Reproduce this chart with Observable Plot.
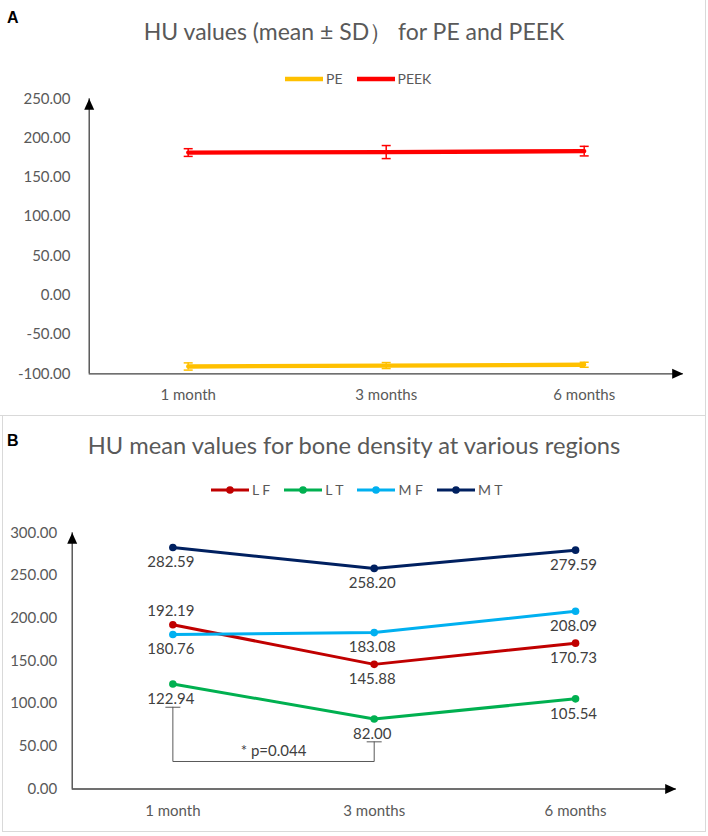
<!DOCTYPE html>
<html>
<head>
<meta charset="utf-8">
<script src="https://cdn.jsdelivr.net/npm/d3@7"></script>
<script src="https://cdn.jsdelivr.net/npm/@observablehq/plot@0.6"></script>
<style>
  body { margin: 0; background: #fff; font-family: Lato, sans-serif; }
  #page { position: relative; width: 708px; height: 836px; }
  .panel { position: absolute; box-sizing: border-box; border: 0 solid #d9d9d9; }
  #panelA { left: 0; top: 0; width: 706px; height: 416px; border-width: 0 1px 1px 0; }
  #panelB { left: 2px; top: 416px; width: 704px; height: 416px; border-width: 0 1px 1px 1px; }
  .tag { position: absolute; left: 7px; font: bold 16px "Liberation Sans", Arial, sans-serif; line-height: 16px; color: #000; }
  .title { position: absolute; left: 0; width: 708px; text-align: center; color: #595959; line-height: 1; white-space: nowrap; }
  .legend { position: absolute; display: flex; align-items: center; height: 20px; font-size: 14px; color: #595959; line-height: 20px; }
  .legend .item { display: flex; align-items: center; margin-right: 14px; }
  .legend svg { margin-right: 3px; }
  .chart { position: absolute; left: 0; }
</style>
</head>
<body>
<div id="page">
  <div class="panel" id="panelA"></div>
  <div class="panel" id="panelB"></div>
  <div class="tag" style="top:10px">A</div>
  <div class="title" style="top:20px;font-size:23px">HU values (mean ± SD） for PE and PEEK</div>
  <div class="legend" id="legendA" style="left:285px;top:69px"></div>
  <div class="chart" id="chartA" style="top:90px"></div>
  <div class="tag" style="top:433px">B</div>
  <div class="title" style="top:433.5px;font-size:23.7px">HU mean values for bone density at various regions</div>
  <div class="legend" id="legendB" style="left:211px;top:480px"></div>
  <div class="chart" id="chartB" style="top:500px"></div>
</div>
<script>
// time points
const months = ["1 month", "3 months", "6 months"]

// panel A: mean and SD
const seriesA = ["PE", "PEEK"]
const colorsA = ["#FFC000", "#FF0000"]
const peMean = [-90.7, -89.5, -88.5]
const peSd = [4.6, 3.8, 3.2]
const peekMean = [181.6, 182.2, 183.4]
const peekSd = [4.9, 8.3, 6.1]
const ticksA = [-100, -50, 0, 50, 100, 150, 200, 250]

// panel B: mean values per region
const seriesB = ["LF", "LT", "MF", "MT"]
const legendLabelsB = ["L F", "L T", "M F", "M T"]
const colorsB = ["#C00000", "#00B050", "#00B0F0", "#002060"]
const lf = [192.19, 145.88, 170.73]
const lt = [122.94, 82.00, 105.54]
const mf = [180.76, 183.08, 208.09]
const mt = [282.59, 258.20, 279.59]
const ticksB = [0, 50, 100, 150, 200, 250, 300]

// significance bracket between 1 month and 3 months (LT)
const bracketX = [0, 0, 1, 1]
const bracketY = [95.7, 32.2, 32.2, 55.2]
const pText = "* p=0.044"
const pAt = {i: 0.5, v: 43.9}

// plain hyphen for negatives, like the original
const fmt = d3.formatLocale({decimal: ".", thousands: ",", grouping: [3], currency: ["", ""], minus: "-"}).format(".2f")

// custom symbols
const arrowRight = {draw(c) { c.moveTo(0, 0); c.lineTo(-11, -5); c.lineTo(-11, 5); c.closePath() }}
const arrowUp = {draw(c) { c.moveTo(0, 0); c.lineTo(-5, 11); c.lineTo(5, 11); c.closePath() }}
const cap = w => ({draw(c) { c.moveTo(-w / 2, 0); c.lineTo(w / 2, 0) }})

const rowsA = []
months.forEach((m, i) => {
  rowsA.push({series: "PE", i, mean: peMean[i], sd: peSd[i]})
})
months.forEach((m, i) => {
  rowsA.push({series: "PEEK", i, mean: peekMean[i], sd: peekSd[i]})
})

const rowsB = []
const valsB = [lf, lt, mf, mt]
seriesB.forEach((s, k) => months.forEach((m, i) => rowsB.push({series: s, i, value: valsB[k][i]})))

const bracket = bracketX.map((x, j) => ({i: x, v: bracketY[j]}))

const axisStroke = "#404040"

let chartA = Plot.plot({
  width: 708,
  height: 320,
  marginLeft: 88.7,
  marginRight: 25.3,
  marginTop: 8.3,
  marginBottom: 36.7,
  x: {domain: [-0.5, 2.5], axis: null},
  y: {domain: [-100, 250], axis: null},
  color: {domain: seriesA, range: colorsA},
  style: {fontFamily: "Lato, sans-serif", fontSize: "15px", color: "#595959", background: "transparent", overflow: "visible"},
  marks: [
    Plot.axisY({ticks: ticksA, tickSize: 0, tickPadding: 18.7, tickFormat: fmt, label: null}),
    Plot.axisX({ticks: [0, 1, 2], tickSize: 0, tickPadding: 16, tickFormat: i => months[i], label: null}),
    Plot.ruleY([-100], {stroke: axisStroke, strokeWidth: 1.3}),
    Plot.ruleX([-0.5], {y1: -100, y2: 250, stroke: axisStroke, strokeWidth: 1.3}),
    Plot.dot([0], {x: () => 2.5, y: () => -100, symbol: arrowRight, fill: "#000", stroke: null}),
    Plot.dot([0], {x: () => -0.5, y: () => 250, symbol: arrowUp, fill: "#000", stroke: null}),
    Plot.lineY(rowsA, {x: "i", y: "mean", z: "series", stroke: "series", strokeWidth: 4.3}),
    Plot.ruleX(rowsA, {x: "i", y1: d => d.mean - d.sd, y2: d => d.mean + d.sd, stroke: "series", strokeWidth: 1.5}),
    Plot.dot(rowsA, {x: "i", y: d => d.mean + d.sd, symbol: cap(9), stroke: "series", strokeWidth: 1.5}),
    Plot.dot(rowsA, {x: "i", y: d => d.mean - d.sd, symbol: cap(9), stroke: "series", strokeWidth: 1.5})
  ]
})
d3.select('#chartA').append(() => chartA)

let chartB = Plot.plot({
  width: 708,
  height: 320,
  marginLeft: 71.7,
  marginRight: 32.3,
  marginTop: 32.2,
  marginBottom: 31.5,
  x: {domain: [-0.5, 2.5], axis: null},
  y: {domain: [0, 300], axis: null},
  color: {domain: seriesB, range: colorsB},
  style: {fontFamily: "Lato, sans-serif", fontSize: "15px", color: "#595959", background: "transparent", overflow: "visible"},
  marks: [
    Plot.axisY({ticks: ticksB, tickSize: 0, tickPadding: 15, tickFormat: fmt, label: null}),
    Plot.axisX({ticks: [0, 1, 2], tickSize: 0, tickPadding: 16, tickFormat: i => months[i], label: null}),
    Plot.ruleY([0], {stroke: axisStroke, strokeWidth: 1.3}),
    Plot.ruleX([-0.5], {y1: 0, y2: 300, stroke: axisStroke, strokeWidth: 1.3}),
    Plot.dot([0], {x: () => 2.5, y: () => 0, symbol: arrowRight, fill: "#000", stroke: null}),
    Plot.dot([0], {x: () => -0.5, y: () => 300, symbol: arrowUp, fill: "#000", stroke: null}),
    // significance bracket
    Plot.line(bracket, {x: "i", y: "v", stroke: "#595959", strokeWidth: 1}),
    Plot.dot([bracket[0], bracket[3]], {x: "i", y: "v", symbol: cap(15), stroke: "#595959", strokeWidth: 1}),
    Plot.text([pAt], {x: "i", y: "v", text: () => pText, fill: "#404040", fontSize: 15}),
    Plot.lineY(rowsB, {x: "i", y: "value", z: "series", stroke: "series", strokeWidth: 3}),
    Plot.dot(rowsB, {x: "i", y: "value", fill: "series", r: 3.8}),
    Plot.text(rowsB, {filter: d => d.series === "LF" && d.i === 0, x: "i", y: "value", text: d => fmt(d.value), dy: -14, dx: -2, fill: "#404040", fontSize: 15}),
    Plot.text(rowsB, {filter: d => !(d.series === "LF" && d.i === 0), x: "i", y: "value", text: d => fmt(d.value), dy: 15, dx: -2, fill: "#404040", fontSize: 15})
  ]
})
d3.select('#chartB').append(() => chartB)

// legends
function swatch(color, width, withDot) {
  const dot = withDot ? `<circle cx="19" cy="5" r="3.8" fill="${color}"/>` : ""
  return `<svg width="38" height="10"><line x1="0" x2="38" y1="5" y2="5" stroke="${color}" stroke-width="${width}"/>${dot}</svg>`
}
d3.select('#legendA').html(seriesA.map((s, k) =>
  `<span class="item">${swatch(colorsA[k], 4.3, false)}<span>${s}</span></span>`).join(""))
d3.select('#legendB').html(legendLabelsB.map((s, k) =>
  `<span class="item">${swatch(colorsB[k], 3, true)}<span>${s}</span></span>`).join(""))
</script>
</body>
</html>
